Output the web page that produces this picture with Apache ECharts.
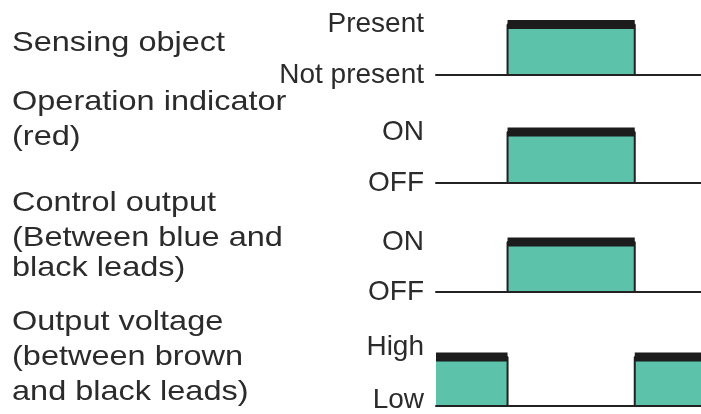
<!DOCTYPE html>
<html>
<head>
<meta charset="utf-8">
<script src="https://cdn.jsdelivr.net/npm/echarts@6/dist/echarts.min.js"></script>
<style>
  html, body { margin: 0; padding: 0; background: #fff; }
  #chart { width: 701px; height: 414px; }
</style>
</head>
<body>
<div id="chart"></div>
<script>
// 时间轴上的跳变时刻 (0-100)
var edgeTimes = [0, 27, 75, 100];
// 每一行在各跳变时刻之后的电平
var sensingLevels = [0, 1, 0, 0];
var indicatorLevels = [0, 1, 0, 0];
var controlLevels = [0, 1, 0, 0];
var voltageLevels = [1, 0, 1, 1];
// 右侧电平名称: [低, 高]
var sensingNames = ['Not present', 'Present'];
var indicatorNames = ['OFF', 'ON'];
var controlNames = ['OFF', 'ON'];
var voltageNames = ['Low', 'High'];
// 左侧说明文字 (每行一条)
var rowTitles = [
  ['Sensing object'],
  ['Operation indicator', '(red)'],
  ['Control output', '(Between blue and', 'black leads)'],
  ['Output voltage', '(between brown', 'and black leads)']
];

var rows = [
  {levels: sensingLevels, names: sensingNames, top: 24.5, height: 50.5, baselines: [53]},
  {levels: indicatorLevels, names: indicatorNames, top: 132, height: 51, baselines: [112, 147]},
  {levels: controlLevels, names: controlNames, top: 242, height: 50, baselines: [213, 248, 278]},
  {levels: voltageLevels, names: voltageNames, top: 357, height: 49, baselines: [332, 367, 402], lift: true}
];

var fillColor = '#5cc2aa';
var edgeColor = '#222';
var textColor = '#2b2b2b';

var chart = echarts.init(document.getElementById('chart'));

var grid = [], xAxis = [], yAxis = [], series = [], graphic = [];
rows.forEach(function (row, i) {
  grid.push({left: 436, right: 0, top: row.top, height: row.height});
  xAxis.push({
    type: 'value', gridIndex: i, min: 0, max: 100, z: 3,
    axisLine: {show: true, lineStyle: {color: edgeColor, width: 2}},
    axisTick: {show: false}, axisLabel: {show: false}, splitLine: {show: false}
  });
  var names = row.names;
  yAxis.push({
    type: 'value', gridIndex: i, min: 0, max: 1, interval: 1,
    axisLine: {show: false}, axisTick: {show: false}, splitLine: {show: false},
    axisLabel: {
      margin: 12,
      color: textColor,
      fontFamily: 'Liberation Sans',
      fontSize: 28,
      formatter: function (v) {
        var s = names[v];
        return row.lift ? '{' + (v ? 'hi' : 'lo') + '|' + s + '}' : s;
      },
      rich: {
        hi: {fontSize: 28, fontFamily: 'Liberation Sans', color: textColor, padding: [0, 0, 20, 0]},
        lo: {fontSize: 28, fontFamily: 'Liberation Sans', color: textColor, padding: [0, 0, 12, 0]}
      }
    }
  });
  // 阶梯波形 + 填充
  var stepData = edgeTimes.map(function (t, k) { return [t, row.levels[k]]; });
  series.push({
    type: 'line', xAxisIndex: i, yAxisIndex: i, step: 'end', symbol: 'none',
    data: stepData, clip: false,
    lineStyle: {color: edgeColor, width: 2},
    areaStyle: {color: fillColor, opacity: 1}
  });
  // 高电平顶部的粗黑线
  var topData = [];
  for (var k = 0; k < edgeTimes.length - 1; k++) {
    if (row.levels[k] === 1) {
      topData.push([edgeTimes[k], 1], [edgeTimes[k + 1], 1], [edgeTimes[k + 1], '-']);
    }
  }
  series.push({
    type: 'line', xAxisIndex: i, yAxisIndex: i, symbol: 'none', clip: false,
    data: topData, z: 4,
    lineStyle: {color: '#1c1c1c', width: 9, cap: 'butt'}
  });
  // 左侧说明
  rowTitles[i].forEach(function (t, j) {
    graphic.push({
      type: 'text', x: 12, y: row.baselines[j] - 10, scaleX: 1.16,
      style: {text: t, font: '28px "Liberation Sans"', fill: textColor, verticalAlign: 'middle'}
    });
  });
});

var option = {
  backgroundColor: '#fff',
  animation: false,
  grid: grid,
  xAxis: xAxis,
  yAxis: yAxis,
  series: series,
  graphic: graphic
};
chart.setOption(option);
</script>
</body>
</html>
